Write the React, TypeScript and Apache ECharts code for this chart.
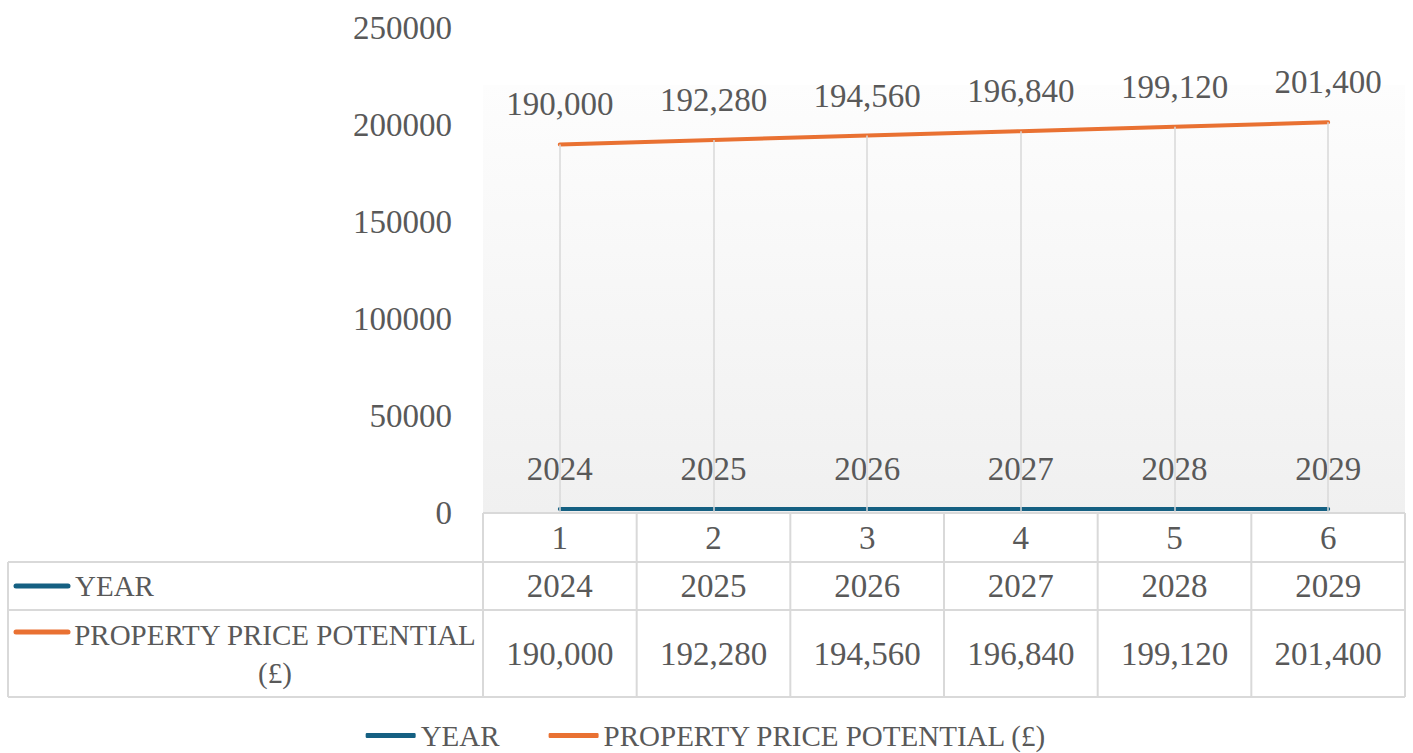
import React, { useEffect, useRef } from "react";
import * as echarts from "echarts";

const categories = ["1", "2", "3", "4", "5", "6"];
const years = [2024, 2025, 2026, 2027, 2028, 2029];
const prices = [190000, 192280, 194560, 196840, 199120, 201400];
const yMin = 0;
const yMax = 250000;
const yInterval = 50000;
const seriesNames = ["YEAR", "PROPERTY PRICE POTENTIAL (£)"];
const tableRowNames = ["YEAR", "PROPERTY PRICE POTENTIAL\n(£)"];
const colors = ["#156082", "#E97132"];

const FONT = "'Liberation Serif', 'Times New Roman', serif";
const TXT = "#595959";
const BORDER = "#d9d9d9";

const fmt = (v: number) => v.toLocaleString("en-GB");

export default function App() {
  const ref = useRef<HTMLDivElement>(null);
  useEffect(() => {
    if (!ref.current) return;
    const chart = echarts.init(ref.current, undefined, { renderer: "svg" });
    const labelStyle = {
      show: true,
      position: "top" as const,
      distance: 23,
      fontFamily: FONT,
      fontSize: 33,
      color: TXT,
    };
    chart.setOption({
      animation: false,
      textStyle: { fontFamily: FONT },
      grid: { left: 483, right: 8, top: 28, bottom: 240 },
      xAxis: {
        type: "category",
        data: categories,
        boundaryGap: true,
        axisLine: { show: false },
        axisTick: { show: false },
        axisLabel: { show: false },
        splitLine: { show: false },
      },
      yAxis: {
        type: "value",
        min: yMin,
        max: yMax,
        interval: yInterval,
        axisLine: { show: false },
        axisTick: { show: false },
        splitLine: { show: false },
        axisLabel: {
          fontFamily: FONT,
          fontSize: 33,
          color: TXT,
          margin: 31,
          formatter: (v: number) => String(v),
        },
      },
      legend: {
        data: seriesNames,
        top: 716,
        left: "center",
        icon: "roundRect",
        itemWidth: 50,
        itemHeight: 5,
        itemGap: 49,
        textStyle: { fontFamily: FONT, fontSize: 29, color: TXT },
      },
      series: [
        {
          name: "drop",
          type: "line",
          data: prices,
          symbol: "none",
          lineStyle: { opacity: 0 },
          silent: true,
          z: 1,
          markLine: {
            silent: true,
            symbol: ["none", "none"],
            label: { show: false },
            lineStyle: { color: BORDER, width: 1.5, type: "solid" },
            data: prices.map((v, i) => [
              { coord: [categories[i], 0] },
              { coord: [categories[i], v] },
            ]),
          },
        },
        {
          name: seriesNames[0],
          type: "line",
          data: years,
          symbol: "circle",
          symbolSize: 1,
          itemStyle: { color: colors[0] },
          lineStyle: { color: colors[0], width: 4, cap: "round" },
          label: { ...labelStyle, formatter: (p: any) => String(p.value) },
          z: 3,
        },
        {
          name: seriesNames[1],
          type: "line",
          data: prices,
          symbol: "circle",
          symbolSize: 1,
          itemStyle: { color: colors[1] },
          lineStyle: { color: colors[1], width: 4, cap: "round" },
          label: { ...labelStyle, formatter: (p: any) => fmt(p.value) },
          z: 3,
        },
      ],
    });

    // Build plot background and data table from axis pixel positions
    const cx = categories.map((c) => chart.convertToPixel({ xAxisIndex: 0 }, c) as number);
    const step = cx[1] - cx[0];
    const left = cx[0] - step / 2;
    const right = cx[cx.length - 1] + step / 2;
    const y0 = chart.convertToPixel({ yAxisIndex: 0 }, 0) as number;
    const rowH = [49, 48, 87];
    const r1 = y0 + rowH[0];
    const r2 = r1 + rowH[1];
    const r3 = r2 + rowH[2];
    const tableLeft = 8;
    const g: any[] = [];
    g.push({
      type: "rect",
      z: -10,
      silent: true,
      shape: { x: left, y: 85, width: right - left, height: y0 - 85 },
      style: {
        fill: new echarts.graphic.LinearGradient(0, 0, 0, 1, [
          { offset: 0, color: "#fdfdfd" },
          { offset: 1, color: "#f0f0f0" },
        ]),
      },
    });
    const line = (x1: number, y1: number, x2: number, y2: number) => ({
      type: "line",
      silent: true,
      z: 5,
      shape: { x1, y1, x2, y2 },
      style: { stroke: BORDER, lineWidth: 2 },
    });
    g.push(line(left, y0, right, y0));
    g.push(line(tableLeft, r1, right, r1));
    g.push(line(tableLeft, r2, right, r2));
    g.push(line(tableLeft, r3, right, r3));
    g.push(line(tableLeft, r1, tableLeft, r3));
    for (let i = 0; i <= categories.length; i++) {
      const x = left + i * step;
      g.push(line(x, y0, x, r3));
    }
    const txt = (x: number, y: number, s: string, size = 33, align = "center") => ({
      type: "text",
      silent: true,
      z: 6,
      x,
      y,
      style: {
        text: s,
        fontFamily: FONT,
        fontSize: size,
        fill: TXT,
        align,
        verticalAlign: "middle",
        lineHeight: 38,
      },
    });
    categories.forEach((c, i) => {
      g.push(txt(cx[i], (y0 + r1) / 2, c));
      g.push(txt(cx[i], (r1 + r2) / 2, String(years[i])));
      g.push(txt(cx[i], (r2 + r3) / 2, fmt(prices[i])));
    });
    // row headers with legend keys
    const keyLine = (y: number, color: string) => ({
      type: "line",
      silent: true,
      z: 6,
      shape: { x1: 16, y1: y, x2: 68, y2: y },
      style: { stroke: color, lineWidth: 5, lineCap: "round" },
    });
    const row1y = (r1 + r2) / 2;
    g.push(keyLine(row1y, colors[0]));
    g.push(txt(75, row1y, tableRowNames[0], 29, "left"));
    const row2y = r2 + 22;
    g.push(keyLine(row2y, colors[1]));
    g.push(txt(275, (r2 + r3) / 2, tableRowNames[1], 29, "center"));
    chart.setOption({ graphic: g });

    return () => chart.dispose();
  }, []);
  return (
    <div
      ref={ref}
      style={{ position: "absolute", left: 0, top: 0, width: 1413, height: 753, background: "#fff" }}
    />
  );
}
